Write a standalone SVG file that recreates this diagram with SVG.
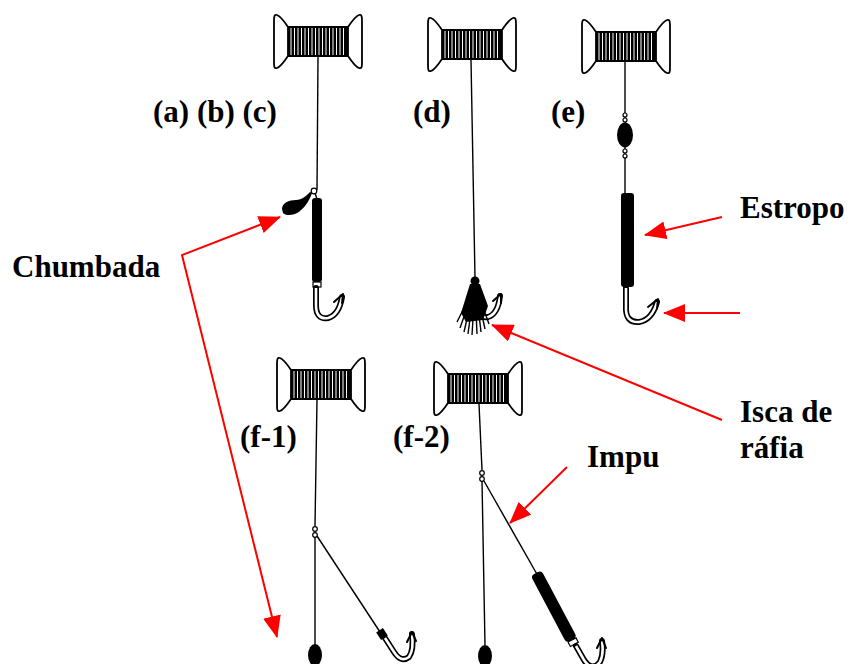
<svg xmlns="http://www.w3.org/2000/svg" xmlns:xlink="http://www.w3.org/1999/xlink" width="851" height="664" viewBox="0 0 851 664">
  <style>
    .lbl { font-family: "Liberation Serif", "Times New Roman", serif; font-weight: bold; font-size: 31px; fill: #000; }
    .line { stroke: #000; stroke-width: 1.4; fill: none; }
    .flange { fill: #fff; stroke: #000; stroke-width: 1.8; stroke-linejoin: round; }
    .stripe { stroke: #fff; stroke-width: 1; }
    .hookOut { stroke: #000; stroke-width: 6; fill: none; stroke-linecap: round; stroke-linejoin: round; }
    .hookIn { stroke: #fff; stroke-width: 2.6; fill: none; stroke-linecap: butt; stroke-linejoin: round; }
    .barb { stroke: #000; stroke-width: 2; fill: none; stroke-linecap: round; stroke-linejoin: round; }
    .tube { fill: #000; }
    .bead { fill: #fff; stroke: #000; stroke-width: 1.2; }
    .red { stroke: #ff0000; stroke-width: 2; fill: none; }
  </style>
  <defs>
    <marker id="arrow" viewBox="0 0 22 18" refX="21" refY="9" markerWidth="22" markerHeight="18" markerUnits="userSpaceOnUse" orient="auto-start-reverse">
      <path d="M0,0 L22,9 L0,18 Z" fill="#ff0000"/>
    </marker>
    <!-- reel: centred on x=0, top edge at y=0 -->
    <g id="spool">
      <rect x="-31" y="11" width="62" height="31" fill="#000"/>
      <g class="stripe">
        <line x1="-27" y1="13" x2="-27" y2="40"/>
        <line x1="-23.5" y1="13" x2="-23.5" y2="40"/>
        <line x1="-20" y1="13" x2="-20" y2="40"/>
        <line x1="-16.5" y1="13" x2="-16.5" y2="40"/>
        <line x1="-13" y1="13" x2="-13" y2="40"/>
        <line x1="-9.5" y1="13" x2="-9.5" y2="40"/>
        <line x1="-6" y1="13" x2="-6" y2="40"/>
        <line x1="-2.5" y1="13" x2="-2.5" y2="40"/>
        <line x1="1" y1="13" x2="1" y2="40"/>
        <line x1="4.5" y1="13" x2="4.5" y2="40"/>
        <line x1="8" y1="13" x2="8" y2="40"/>
        <line x1="11.5" y1="13" x2="11.5" y2="40"/>
        <line x1="15" y1="13" x2="15" y2="40"/>
        <line x1="18.5" y1="13" x2="18.5" y2="40"/>
        <line x1="22" y1="13" x2="22" y2="40"/>
        <line x1="25.5" y1="13" x2="25.5" y2="40"/>
      </g>
      <path class="flange" d="M-30,12 C-34,6 -38,1 -41,0 C-44,-1 -44,3 -44,6 L-44,47 C-44,51 -44,54 -41,53 C-38,52 -34,47 -30,41 Z"/>
      <path class="flange" d="M30,12 C34,6 38,1 41,0 C44,-1 44,3 44,6 L44,47 C44,51 44,54 41,53 C38,52 34,47 30,41 Z"/>
    </g>
  </defs>

  <rect width="851" height="664" fill="#fff"/>

  <!-- rig (a)(b)(c): sinker on a loop above a wire trace -->
  <g id="rig-abc">
    <use xlink:href="#spool" transform="translate(318,15)"/>
    <line class="line" x1="318" y1="57" x2="317" y2="190"/>
    <path d="M282,209 C282,203 289,200 296,200 C302,200 306,196 310,192 L312,193 C310,199 306,206 300,211 C295,216 285,216 283,213 Z" fill="#000"/>
    <circle class="bead" cx="314" cy="191" r="2.8"/>
    <line class="line" x1="315" y1="193" x2="317" y2="199"/>
    <rect class="tube" x="312" y="198" width="10" height="84" rx="3"/>
    <rect class="bead" x="313" y="282" width="8" height="5"/>
    <path class="hookOut" d="M316,288 L316,305 Q316,320 328,318 Q339,315 342,297"/>
    <path class="hookIn" d="M316,288 L316,305 Q316,320 328,318 Q339,315 342,297"/>
    <path class="barb" d="M334,302 L343,294 L342,303"/>
  </g>

  <!-- rig (d): raffia lure -->
  <g id="rig-d">
    <use xlink:href="#spool" transform="translate(472,18)"/>
    <line class="line" x1="471" y1="60" x2="475" y2="278"/>
    <path class="hookOut" d="M478,300 Q477,319 488,317 Q498,314 500,296"/>
    <path class="hookIn" d="M478,300 Q477,319 488,317 Q498,314 500,296"/>
    <path class="barb" d="M493,301 L501,294 L501,303"/>
    <ellipse cx="475" cy="281" rx="4.5" ry="4.5" fill="#000"/>
    <path d="M470,284 L480,284 L488,306 L483,320 L466,322 L461,313 Z" fill="#000"/>
    <g class="line" stroke-width="1.1">
      <line x1="474" y1="288" x2="457" y2="322"/>
      <line x1="474" y1="288" x2="460" y2="328"/>
      <line x1="474" y1="288" x2="464" y2="332"/>
      <line x1="474" y1="288" x2="468" y2="334"/>
      <line x1="475" y1="288" x2="472" y2="335"/>
      <line x1="475" y1="288" x2="477" y2="334"/>
      <line x1="476" y1="288" x2="481" y2="332"/>
      <line x1="476" y1="288" x2="485" y2="329"/>
      <line x1="476" y1="288" x2="489" y2="324"/>
    </g>
  </g>

  <!-- rig (e): running sinker with swivels and trace -->
  <g id="rig-e">
    <use xlink:href="#spool" transform="translate(626,20)"/>
    <line class="line" x1="625" y1="62" x2="625" y2="193"/>
    <circle class="bead" cx="625" cy="115" r="2"/>
    <circle class="bead" cx="625" cy="120" r="2"/>
    <ellipse cx="625" cy="135" rx="8" ry="12.5" fill="#000"/>
    <circle class="bead" cx="625" cy="151" r="2"/>
    <circle class="bead" cx="625" cy="156" r="2"/>
    <rect class="tube" x="621" y="193" width="13" height="94" rx="3"/>
    <path class="hookOut" d="M626,288 L626,306 Q625,323 639,322 Q652,320 657,302"/>
    <path class="hookIn" d="M626,288 L626,306 Q625,323 639,322 Q652,320 657,302"/>
    <path class="barb" d="M648,307 L658,299 L657,309"/>
  </g>

  <!-- rig (f-1): paternoster with short snood -->
  <g id="rig-f1">
    <use xlink:href="#spool" transform="translate(321,358)"/>
    <line class="line" x1="317" y1="400" x2="315" y2="526"/>
    <circle class="bead" cx="315" cy="529" r="2.3"/>
    <circle class="bead" cx="315" cy="535" r="2.3"/>
    <line class="line" x1="315" y1="537" x2="315" y2="645"/>
    <ellipse cx="315" cy="655" rx="7" ry="11" fill="#000"/>
    <line class="line" x1="317" y1="536" x2="380" y2="632"/>
    <rect class="tube" x="-4.5" y="-4" width="9" height="8" transform="translate(382,634) rotate(57)"/>
    <path class="hookOut" d="M385,638 L394,652 Q401,663 409,657 Q414,650 412,634"/>
    <path class="hookIn" d="M385,638 L394,652 Q401,663 409,657 Q414,650 412,634"/>
    <path class="barb" d="M407,642 L412,632 L416,641"/>
  </g>

  <!-- rig (f-2): paternoster with long wire snood -->
  <g id="rig-f2">
    <use xlink:href="#spool" transform="translate(478,362)"/>
    <line class="line" x1="479" y1="404" x2="482" y2="470"/>
    <circle class="bead" cx="482" cy="473" r="2.3"/>
    <circle class="bead" cx="482" cy="479" r="2.3"/>
    <line class="line" x1="482" y1="481" x2="485" y2="645"/>
    <ellipse cx="485" cy="656" rx="7" ry="11" fill="#000"/>
    <line class="line" x1="484" y1="481" x2="538" y2="576"/>
    <rect class="tube" x="-6" y="0" width="12" height="76" rx="4" transform="translate(536,573) rotate(-28)"/>
    <rect class="bead" x="-4.5" y="0" width="9" height="5" transform="translate(572,640) rotate(-28)"/>
    <path class="hookOut" d="M576,646 L584,660 Q592,672 600,662 Q604,654 602,641"/>
    <path class="hookIn" d="M576,646 L584,660 Q592,672 600,662 Q604,654 602,641"/>
    <path class="barb" d="M597,648 L602,638 L606,648"/>
  </g>

  <!-- callout arrows -->
  <g id="connectors">
    <polyline class="red" points="280,217 182,255 277,637" marker-start="url(#arrow)" marker-end="url(#arrow)"/>
    <line class="red" x1="722" y1="217" x2="645" y2="235" marker-end="url(#arrow)"/>
    <line class="red" x1="740" y1="313" x2="664" y2="313" marker-end="url(#arrow)"/>
    <line class="red" x1="722" y1="420" x2="492" y2="325" marker-end="url(#arrow)"/>
    <line class="red" x1="567" y1="467" x2="510" y2="523" marker-end="url(#arrow)"/>
  </g>

  <!-- labels -->
  <g id="labels">
    <text class="lbl" x="153" y="122">(a) (b) (c)</text>
    <text class="lbl" x="413" y="122">(d)</text>
    <text class="lbl" x="551" y="122">(e)</text>
    <text class="lbl" x="12" y="277">Chumbada</text>
    <text class="lbl" x="740" y="218">Estropo</text>
    <text class="lbl" x="740" y="422">Isca de</text>
    <text class="lbl" x="740" y="458">ráfia</text>
    <text class="lbl" x="587" y="467">Impu</text>
    <text class="lbl" x="240" y="447">(f-1)</text>
    <text class="lbl" x="393" y="447">(f-2)</text>
  </g>
</svg>
